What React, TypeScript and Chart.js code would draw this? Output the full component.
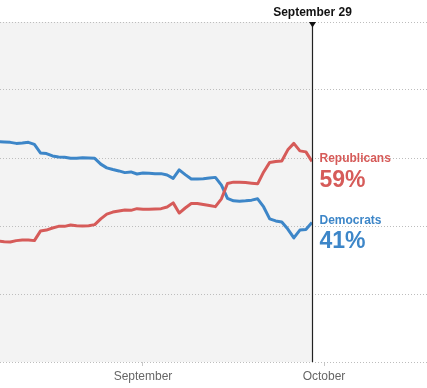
import React, { useEffect, useRef } from "react";
import { Chart, registerables } from "chart.js";

Chart.register(...registerables);

// Day offsets relative to September 1 (0 = Sep 1, 30 = Oct 1)
const firstDay = -24; // August 8
const markerDay = 28; // September 29
const markerLabel = "September 29";

const xTickValues = [0, 30];
const xTickLabels = ["September", "October"];

const yGridValues = [0, 20, 40, 60, 80, 100];

const seriesNames = ["Republicans", "Democrats"];
const seriesColors = ["#d65b59", "#3d86c8"];

// Daily chance of controlling the Senate (%), Aug 8 – Sep 29
const republicanValues = [
  35.6, 35.4, 35.3, 35.7, 35.9, 35.9, 35.7, 38.5, 38.8, 39.4,
  39.9, 39.9, 40.3, 40.1, 40.0, 40.1, 40.4, 42.1, 43.5, 44.1,
  44.4, 44.7, 44.6, 45.1, 44.9, 44.9, 45.0, 45.1, 45.6, 46.8,
  43.8, 45.3, 46.6, 46.6, 46.3, 46.0, 45.7, 48.0, 52.5, 52.9,
  52.9, 52.8, 52.6, 52.4, 55.9, 58.7, 59.0, 59.1, 62.4, 64.3,
  62.1, 61.8, 59.0,
];
const democratValues = [
  64.8, 64.7, 64.6, 64.3, 64.4, 64.6, 64.0, 61.5, 61.3, 60.6,
  60.3, 60.2, 59.9, 59.9, 60.1, 60.0, 59.9, 58.2, 57.1, 56.6,
  56.2, 55.7, 55.9, 55.3, 55.6, 55.5, 55.4, 55.4, 55.0, 54.0,
  56.5, 55.1, 53.8, 53.8, 53.9, 54.1, 54.3, 52.0, 48.1, 47.4,
  47.3, 47.4, 47.6, 48.0, 45.6, 42.1, 41.5, 41.2, 39.1, 36.5,
  38.8, 39.0, 41.0,
];

const FONT = "'Liberation Sans', Arial, sans-serif";

const toPoints = (vals: number[]) => vals.map((v, i) => ({ x: firstDay + i, y: v }));

const overlayBefore = {
  id: "bgShade",
  beforeDraw(chart: any) {
    const { ctx, chartArea, scales } = chart;
    const xm = scales.x.getPixelForValue(markerDay);
    ctx.save();
    ctx.fillStyle = "#f3f3f3";
    ctx.fillRect(chartArea.left, chartArea.top, xm - chartArea.left, chartArea.bottom - chartArea.top);
    ctx.restore();
  },
};

const overlayAfter = {
  id: "annotations",
  afterDraw(chart: any) {
    const { ctx, chartArea, scales } = chart;
    const xm = Math.round(scales.x.getPixelForValue(markerDay)) + 0.5;
    ctx.save();
    // vertical marker line
    ctx.strokeStyle = "#222";
    ctx.lineWidth = 1.2;
    ctx.beginPath();
    ctx.moveTo(xm, chartArea.top);
    ctx.lineTo(xm, chartArea.bottom);
    ctx.stroke();
    // triangle
    ctx.fillStyle = "#111";
    ctx.beginPath();
    ctx.moveTo(xm - 3.5, chartArea.top);
    ctx.lineTo(xm + 3.5, chartArea.top);
    ctx.lineTo(xm, chartArea.top + 5.5);
    ctx.closePath();
    ctx.fill();
    // top label
    ctx.font = `bold 12px ${FONT}`;
    ctx.textAlign = "center";
    ctx.textBaseline = "alphabetic";
    ctx.fillStyle = "#111";
    ctx.fillText(markerLabel, xm, 15.5);
    // series end labels
    const series = [republicanValues, democratValues];
    series.forEach((vals, i) => {
      const last = vals[vals.length - 1];
      const yp = scales.y.getPixelForValue(last);
      ctx.textAlign = "left";
      ctx.fillStyle = seriesColors[i];
      ctx.font = `bold 12px ${FONT}`;
      ctx.fillText(seriesNames[i], xm + 7, yp + 1);
      ctx.font = `bold 23px ${FONT}`;
      ctx.fillText(`${Math.round(last)}%`, xm + 7, yp + 25.5);
    });
    ctx.restore();
  },
};

export default function App() {
  const ref = useRef<HTMLCanvasElement | null>(null);
  useEffect(() => {
    if (!ref.current) return;
    const chart = new Chart(ref.current, {
      type: "line",
      data: {
        datasets: [
          {
            label: seriesNames[0],
            data: toPoints(republicanValues),
            borderColor: seriesColors[0],
            borderWidth: 3,
            pointRadius: 0,
            tension: 0,
            borderJoinStyle: "round",
          },
          {
            label: seriesNames[1],
            data: toPoints(democratValues),
            borderColor: seriesColors[1],
            borderWidth: 3,
            pointRadius: 0,
            tension: 0,
            borderJoinStyle: "round",
          },
        ],
      },
      options: {
        responsive: false,
        animation: false,
        layout: { padding: { top: 22, bottom: 1.6, left: 0, right: 0 } },
        plugins: { legend: { display: false }, tooltip: { enabled: false } },
        scales: {
          x: {
            type: "linear",
            min: -23.7,
            max: 47.07,
            border: { display: false },
            grid: { drawOnChartArea: false, drawTicks: true, tickLength: 4, color: "#c8c8c8" },
            afterBuildTicks: (scale: any) => {
              scale.ticks = xTickValues.map((v) => ({ value: v }));
            },
            ticks: {
              padding: 3,
              color: "#666",
              font: { family: FONT, size: 12 },
              maxRotation: 0,
              autoSkip: false,
              callback: (v: any) => {
                const i = xTickValues.indexOf(Number(v));
                return i >= 0 ? xTickLabels[i] : "";
              },
            },
          },
          y: {
            min: 0,
            max: 100,
            afterBuildTicks: (scale: any) => {
              scale.ticks = yGridValues.map((v) => ({ value: v }));
            },
            ticks: { display: false },
            border: { display: false, dash: [1, 2] },
            grid: { drawTicks: false, color: "#bdbdbd", lineWidth: 1 },
          },
        },
      },
      plugins: [overlayBefore, overlayAfter],
    } as any);
    return () => chart.destroy();
  }, []);
  return (
    <div style={{ position: "absolute", left: 0, top: 0, width: 427, height: 388 }}>
      <canvas ref={ref} width={427} height={388} style={{ display: "block" }} />
    </div>
  );
}
